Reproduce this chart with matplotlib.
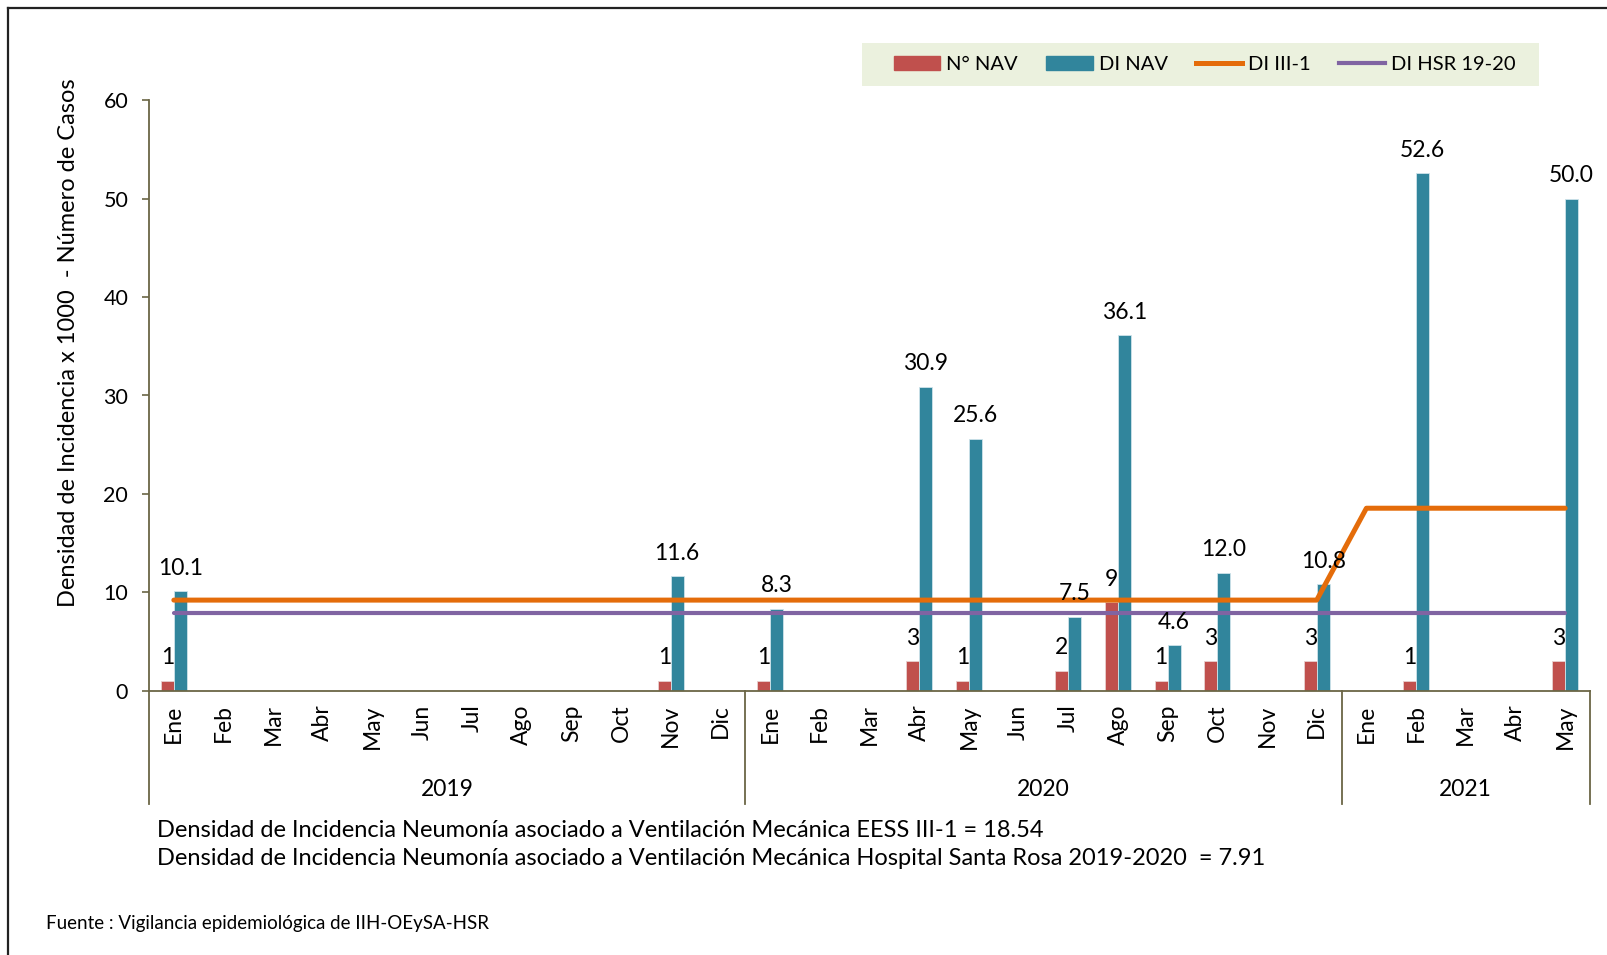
import numpy as np
import matplotlib
matplotlib.use("Agg")
import matplotlib.pyplot as plt
from matplotlib.lines import Line2D
from matplotlib.patches import Patch, Rectangle

plt.rcParams['font.family'] = ['Lato', 'DejaVu Sans']

# Datos
meses = ['Ene', 'Feb', 'Mar', 'Abr', 'May', 'Jun', 'Jul', 'Ago', 'Sep', 'Oct', 'Nov', 'Dic',
         'Ene', 'Feb', 'Mar', 'Abr', 'May', 'Jun', 'Jul', 'Ago', 'Sep', 'Oct', 'Nov', 'Dic',
         'Ene', 'Feb', 'Mar', 'Abr', 'May']
anios = ['2019', '2020', '2021']
meses_por_anio = [12, 12, 5]

n_nav = [1, 0, 0, 0, 0, 0, 0, 0, 0, 0, 1, 0,
         1, 0, 0, 3, 1, 0, 2, 9, 1, 3, 0, 3,
         0, 1, 0, 0, 3]
di_nav = [10.1, 0, 0, 0, 0, 0, 0, 0, 0, 0, 11.6, 0,
          8.3, 0, 0, 30.9, 25.6, 0, 7.5, 36.1, 4.6, 12.0, 0, 10.8,
          0, 52.6, 0, 0, 50.0]
di_iii1 = [9.2] * 24 + [18.54] * 5
di_hsr = [7.91] * 29

c_red = '#c0504d'
c_teal = '#31859c'
c_orange = '#e46c0a'
c_purple = '#8064a2'
c_axis = '#6b6645'

W, H = 1607, 955
fig = plt.figure(figsize=(W / 100, H / 100), dpi=100)
ax = fig.add_axes([149 / W, 1 - 690.6 / H, (1590 - 149) / W, (690.6 - 100.4) / H])

x = np.arange(len(meses))
bw = 0.26
ax.bar(x - bw / 2, n_nav, bw, color=c_red, edgecolor='#e8d0cf', linewidth=0.6)
ax.bar(x + bw / 2, di_nav, bw, color=c_teal, edgecolor='#cfe3ea', linewidth=0.6)
ax.plot(x, di_iii1, color=c_orange, lw=3.6, solid_capstyle='round', zorder=3)
ax.plot(x, di_hsr, color=c_purple, lw=3.0, solid_capstyle='round', zorder=3)

for i in range(len(meses)):
    if n_nav[i] > 0:
        ax.annotate(str(n_nav[i]), (x[i] - bw / 2, n_nav[i]), xytext=(0, 9),
                    textcoords='offset points', ha='center', va='bottom', fontsize=16.5, zorder=5)
    if di_nav[i] > 0:
        ax.annotate(f'{di_nav[i]:.1f}', (x[i] + bw / 2, di_nav[i]), xytext=(0, 9),
                    textcoords='offset points', ha='center', va='bottom', fontsize=16.5, zorder=5)

ax.set_xlim(-0.5, len(meses) - 0.5)
ax.set_ylim(0, 60)
ax.set_yticks(range(0, 61, 10))
ax.tick_params(axis='y', colors=c_axis, labelcolor='black', labelsize=15.5, length=5, width=1.2, pad=10)
ax.set_xticks(x)
ax.set_xticklabels(meses, rotation=90, fontsize=16.5)
ax.tick_params(axis='x', length=0, pad=10)

for s in ['top', 'right']:
    ax.spines[s].set_visible(False)
ax.spines['left'].set_color(c_axis)
ax.spines['bottom'].set_color(c_axis)
ax.spines['left'].set_linewidth(1.3)
ax.spines['bottom'].set_linewidth(1.3)

# Eje de años
trans = ax.get_xaxis_transform()
inicio = -0.5
for anio, n in zip(anios, meses_por_anio):
    ax.plot([inicio, inicio], [0, -0.192], transform=trans, color=c_axis, lw=1.3, clip_on=False)
    ax.text(inicio + n / 2, -0.167, anio, transform=trans, ha='center', va='center', fontsize=16.5)
    inicio += n
ax.plot([inicio, inicio], [0, -0.192], transform=trans, color=c_axis, lw=1.3, clip_on=False)

fig.text(69 / W, 1 - 343 / H, 'Densidad de Incidencia x 1000  - Número de Casos',
         rotation=90, ha='center', va='center', fontsize=17)

# Leyenda
fig.add_artist(Rectangle((862 / W, 1 - 86 / H), (1539 - 862) / W, 43 / H,
                         transform=fig.transFigure, facecolor='#ebf1de', edgecolor='none', zorder=0))
handles = [Patch(color=c_red), Patch(color=c_teal),
           Line2D([], [], color=c_orange, lw=3.6), Line2D([], [], color=c_purple, lw=3.0)]
leg = fig.legend(handles, ['N° NAV', 'DI NAV', 'DI III-1', 'DI HSR 19-20'], ncol=4,
                 loc='center', bbox_to_anchor=(1205 / W, 1 - 64.5 / H), frameon=False,
                 fontsize=14.5, handlelength=2.3, handleheight=0.7, columnspacing=1.4,
                 handletextpad=0.3)

fig.text(157 / W, 1 - 830 / H,
         'Densidad de Incidencia Neumonía asociado a Ventilación Mecánica EESS III-1 = 18.54',
         ha='left', va='center', fontsize=17)
fig.text(157 / W, 1 - 858 / H,
         'Densidad de Incidencia Neumonía asociado a Ventilación Mecánica Hospital Santa Rosa 2019-2020  = 7.91',
         ha='left', va='center', fontsize=17)
fig.text(46 / W, 1 - 923 / H, 'Fuente : Vigilancia epidemiológica de IIH-OEySA-HSR',
         ha='left', va='center', fontsize=13.5)

# Marco
fig.add_artist(Line2D([8 / W, 1], [1 - 8 / H, 1 - 8 / H], transform=fig.transFigure, color='#222222', lw=1.6))
fig.add_artist(Line2D([8 / W, 8 / W], [0, 1 - 8 / H], transform=fig.transFigure, color='#222222', lw=1.6))

fig.savefig('out.png', dpi=100)
